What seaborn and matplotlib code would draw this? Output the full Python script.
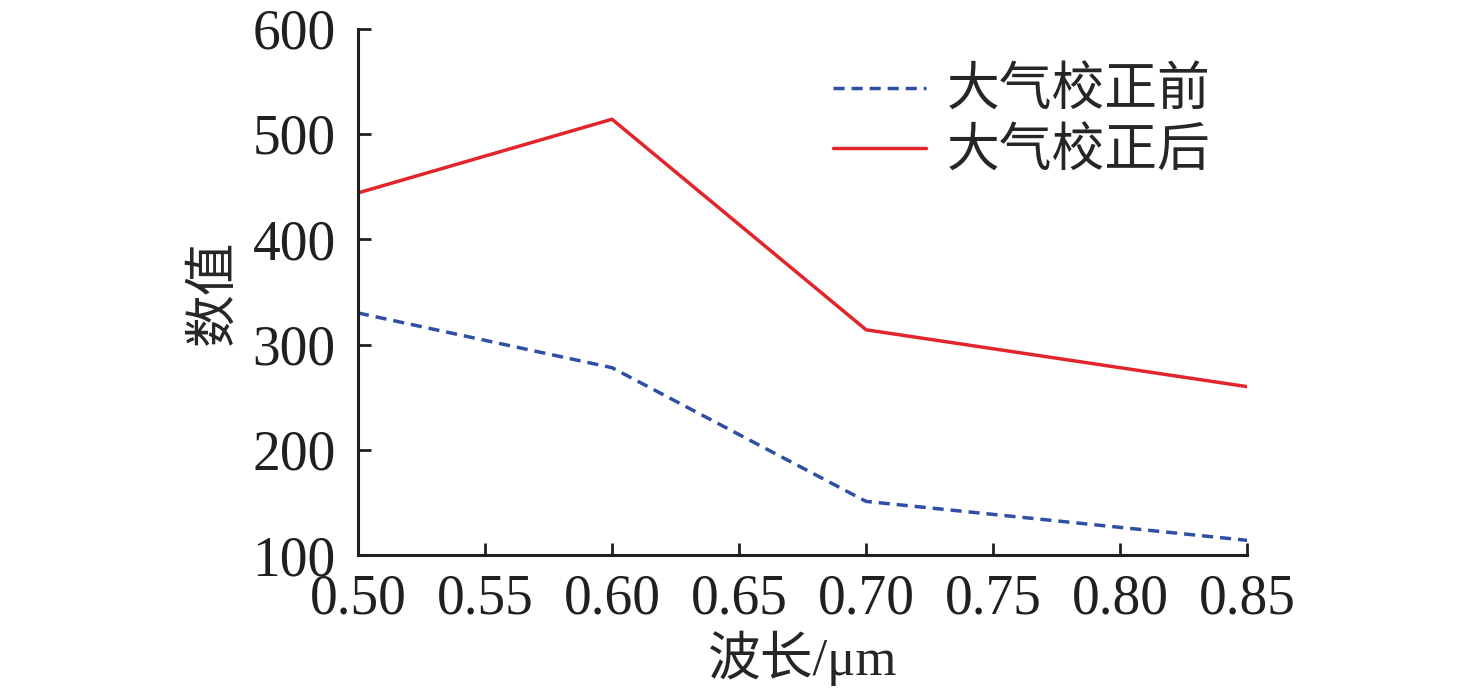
import pandas as pd
import matplotlib
matplotlib.use("Agg")
import matplotlib.pyplot as plt
import seaborn as sns

wavelength = [0.50, 0.60, 0.70, 0.85]
before = [330, 278, 151, 114]
after = [444, 514, 314, 260]
labels = ["大气校正前", "大气校正后"]

df = pd.concat([
    pd.DataFrame({"wl": wavelength, "val": before, "kind": labels[0]}),
    pd.DataFrame({"wl": wavelength, "val": after, "kind": labels[1]}),
])

sns.set_style("ticks")
plt.rcParams["font.family"] = ["Liberation Serif", "Noto Sans CJK SC"]

fig = plt.figure(figsize=(14.76, 7), dpi=100)
ax = fig.add_axes([0.2425, 0.207, 0.6025, 0.752])

sns.lineplot(
    data=df, x="wl", y="val", hue="kind", style="kind",
    palette={labels[0]: "#2E4FA3", labels[1]: "#E2252B"},
    dashes={labels[0]: (3.2, 2.0), labels[1]: ""},
    linewidth=2.5, ax=ax,
)

ax.set_xlim(0.50, 0.85)
ax.set_ylim(100, 600)
ax.set_xticks([0.50, 0.55, 0.60, 0.65, 0.70, 0.75, 0.80, 0.85])
ax.set_xticklabels([f"{v:.2f}" for v in ax.get_xticks()])
ax.set_yticks([100, 200, 300, 400, 500, 600])
sns.despine(ax=ax)
for s in ["left", "bottom"]:
    ax.spines[s].set_linewidth(2.2)
    ax.spines[s].set_color("#231f20")
ax.tick_params(direction="in", length=9, width=2.0, labelsize=40, colors="#231f20")
ax.tick_params(axis="y", pad=16)
ax.tick_params(axis="x", pad=13)

ax.set_xlabel("波长/μm", fontsize=38, labelpad=4)
ax.set_ylabel("数值", fontsize=38, labelpad=10)

leg = ax.legend(loc="upper right", bbox_to_anchor=(1.012, 1.025), frameon=False,
                fontsize=38, handlelength=1.75, handletextpad=0.4, labelspacing=0.1)
for t in leg.get_texts():
    t.set_fontfamily(["Noto Sans CJK SC"])
for h in leg.get_lines():
    h.set_linewidth(2.5)

fig.savefig("out.png", dpi=100)
